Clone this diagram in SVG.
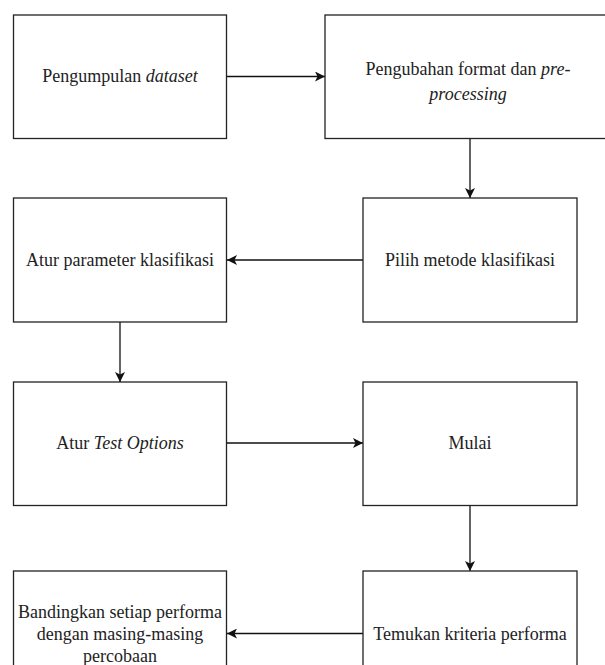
<svg xmlns="http://www.w3.org/2000/svg" width="605" height="665" viewBox="0 0 605 665">
<defs>
<marker id="ah" viewBox="0 0 10 10" refX="10" refY="5" markerWidth="10" markerHeight="10" markerUnits="userSpaceOnUse" orient="auto">
<path d="M0,0 L10,5 L0,10 L2.5,5 Z" fill="#111"/>
</marker>
<style>
.box{fill:#fff;stroke:#222;stroke-width:1.3}
.t{font-size:18px;fill:#222;text-anchor:middle}
.c{stroke:#111;stroke-width:1.3;fill:none;marker-end:url(#ah)}
</style>
</defs>
<rect width="605" height="665" fill="#fff"/>
<g id="connectors">
<line class="c" x1="226.5" y1="76.5" x2="325" y2="76.5"/>
<line class="c" x1="470" y1="138.5" x2="470" y2="198"/>
<line class="c" x1="363" y1="260" x2="227" y2="260"/>
<line class="c" x1="120" y1="322" x2="120" y2="382"/>
<line class="c" x1="226.5" y1="443" x2="363" y2="443"/>
<line class="c" x1="470" y1="505.5" x2="470" y2="571"/>
<line class="c" x1="363" y1="633.5" x2="227" y2="633.5"/>
</g>
<g font-family="Liberation Serif, Times New Roman, serif">
<g id="n1">
<rect class="box" x="13.5" y="15" width="213" height="123.5"/>
<text class="t" x="120" y="82">Pengumpulan <tspan font-style="italic">dataset</tspan></text>
</g>
<g id="n2">
<rect class="box" x="325" y="15" width="290" height="123.5"/>
<text class="t" x="468" y="75">Pengubahan format dan <tspan font-style="italic">pre-</tspan></text>
<text class="t" x="468" y="100" font-style="italic">processing</text>
</g>
<g id="n3">
<rect class="box" x="13.5" y="198" width="213" height="124"/>
<text class="t" x="120" y="266">Atur parameter klasifikasi</text>
</g>
<g id="n4">
<rect class="box" x="363" y="198" width="214" height="124"/>
<text class="t" x="470" y="266">Pilih metode klasifikasi</text>
</g>
<g id="n5">
<rect class="box" x="13.5" y="382" width="213" height="123.5"/>
<text class="t" x="120" y="449">Atur <tspan font-style="italic">Test Options</tspan></text>
</g>
<g id="n6">
<rect class="box" x="363" y="382" width="214" height="123.5"/>
<text class="t" x="470" y="449">Mulai</text>
</g>
<g id="n7">
<rect class="box" x="13.5" y="571" width="213" height="124"/>
<text class="t" x="120" y="618">Bandingkan setiap performa</text>
<text class="t" x="120" y="640">dengan masing-masing</text>
<text class="t" x="120" y="662">percobaan</text>
</g>
<g id="n8">
<rect class="box" x="363" y="571" width="214" height="124"/>
<text class="t" x="470" y="640">Temukan kriteria performa</text>
</g>
</g>
</svg>
